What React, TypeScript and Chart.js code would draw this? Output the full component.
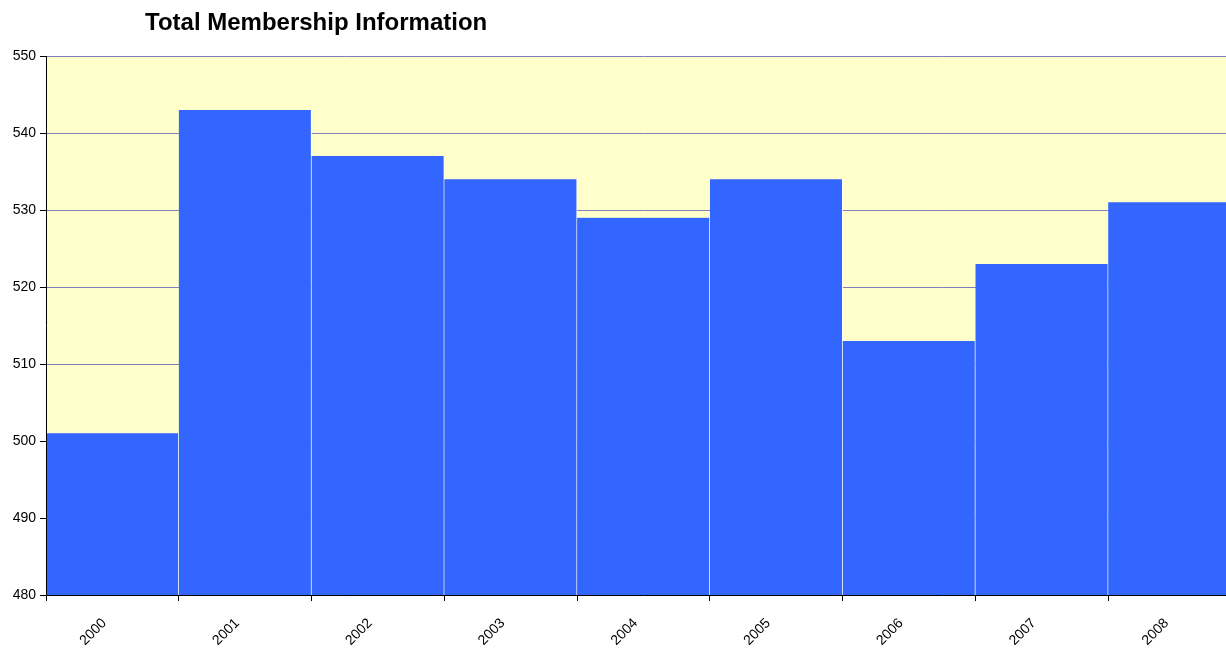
import React, { useEffect, useRef } from "react";
import { Chart, registerables } from "chart.js";

Chart.register(...registerables);

const TITLE = "Total Membership Information";
const YEARS = ["2000", "2001", "2002", "2003", "2004", "2005", "2006", "2007", "2008"];
const MEMBERS = [501, 543, 537, 534, 529, 534, 513, 523, 531];
const Y_MIN = 480;
const Y_MAX = 550;
const Y_STEP = 10;

const FONT = "'Liberation Sans', Arial, sans-serif";

const decorPlugin = {
  id: "decor",
  beforeDraw(chart: any) {
    const { ctx, chartArea } = chart;
    ctx.save();
    ctx.fillStyle = "#FFFFCC";
    ctx.fillRect(chartArea.left, chartArea.top, chartArea.right - chartArea.left, chartArea.bottom - chartArea.top);
    ctx.restore();
  },
  afterDatasetsDraw(chart: any) {
    const { ctx, chartArea } = chart;
    ctx.save();
    ctx.strokeStyle = "#000000";
    ctx.lineWidth = 1;
    ctx.beginPath();
    ctx.moveTo(chartArea.left + 0.5, chartArea.top);
    ctx.lineTo(chartArea.left + 0.5, chartArea.bottom + 0.5);
    ctx.lineTo(chartArea.right, chartArea.bottom + 0.5);
    ctx.stroke();
    ctx.restore();
  },
  afterDraw(chart: any) {
    const { ctx } = chart;
    ctx.save();
    ctx.fillStyle = "#000000";
    ctx.font = `bold 24px ${FONT}`;
    ctx.textBaseline = "alphabetic";
    ctx.textAlign = "left";
    ctx.fillText(TITLE, 145, 30);
    ctx.restore();
  },
};

export default function App() {
  const ref = useRef<HTMLCanvasElement | null>(null);
  useEffect(() => {
    document.body.style.margin = "0";
    const canvas = ref.current;
    if (!canvas) return;
    const chart = new Chart(canvas, {
      type: "bar",
      data: {
        labels: YEARS,
        datasets: [
          {
            label: "Members",
            data: MEMBERS,
            backgroundColor: "#3366FF",
            borderColor: "#FFFFFF",
            borderWidth: { left: 0, right: 1, top: 0, bottom: 0 },
            borderSkipped: false,
            barPercentage: 1,
            categoryPercentage: 1,
          },
        ],
      },
      options: {
        animation: false,
        responsive: false,
        maintainAspectRatio: false,
        layout: { padding: { top: 56, right: 0, left: 0, bottom: 0 } },
        plugins: {
          legend: { display: false },
          title: { display: false },
          tooltip: { enabled: false },
        },
        scales: {
          x: {
            offset: true,
            grid: {
              offset: true,
              drawOnChartArea: false,
              drawTicks: true,
              tickLength: 6,
              tickColor: "#000000",
            },
            border: { display: false },
            ticks: {
              color: "#000000",
              font: { family: FONT, size: 14 },
              maxRotation: 45,
              minRotation: 45,
              padding: 14,
              labelOffset: -8,
            },
            afterFit(scale: any) {
              scale.height = 59;
            },
          },
          y: {
            min: Y_MIN,
            max: Y_MAX,
            grid: {
              color: "#7F7FBF",
              lineWidth: 1,
              tickColor: "#000000",
              tickLength: 6,
            },
            border: { display: false },
            ticks: {
              stepSize: Y_STEP,
              color: "#000000",
              font: { family: FONT, size: 14 },
              padding: 4,
            },
            afterFit(scale: any) {
              scale.width = 46;
            },
          },
        },
      },
      plugins: [decorPlugin],
    });
    return () => chart.destroy();
  }, []);
  return (
    <div style={{ width: 1226, height: 654, overflow: "hidden" }}>
      <canvas ref={ref} width={1241} height={654} style={{ display: "block" }} />
    </div>
  );
}
